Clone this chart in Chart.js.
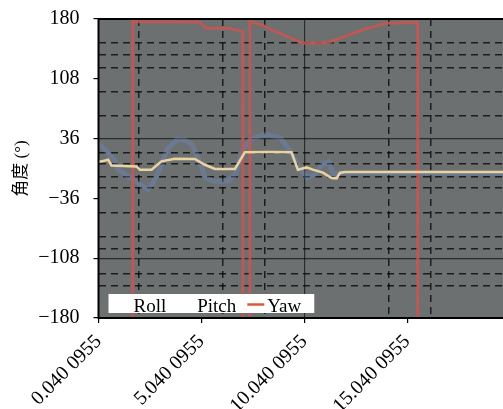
<!DOCTYPE html>
<html>
<head>
<meta charset="utf-8">
<script src="https://cdn.jsdelivr.net/npm/chart.js@4.4.0/dist/chart.umd.min.js"></script>
<style>
  html, body { margin: 0; padding: 0; background: #fff; overflow: hidden; }
  #chart { display: block; }
</style>
</head>
<body>
<canvas id="chart" width="510" height="409"></canvas>
<script>
// Data
const xTicks = [0.0400955, 5.0400955, 10.0400955, 15.0400955];
const xTickLabels = ['0.040 0955', '5.040 0955', '10.040 0955', '15.040 0955'];
const yTicks = [180, 108, 36, -36, -108, -180];
const yTickLabels = ['180', '108', '36', '\u221236', '\u2212108', '\u2212180'];
const seriesNames = ['Roll', 'Pitch', 'Yaw'];

const rollX = [0.04, 0.35, 0.83, 0.98, 2.05, 2.44, 2.68, 3.03, 3.37, 3.86, 4.25, 4.60, 4.99, 5.23, 5.72, 6.35, 6.69,
  7.08, 7.42, 8.15, 8.88, 9.37, 9.85, 10.19, 10.58, 10.92, 11.21, 11.45, 11.79, 20.04];
const rollY = [30, 23, 10, -1, -19, -25, -17, -1, 23, 35, 34, 29, 5, -11, -16, -15, -7,
  23, 35, 41, 37, 20, -1, -11, -7, 5, 8, -7, -5, -6];

const pitchX = [0.04, 0.19, 0.51, 0.67, 1.89, 2.05, 2.62, 3.10, 3.75, 4.72, 5.21, 5.70, 6.67, 7.00, 7.15, 8.37,
  9.42, 9.73, 10.15, 10.46, 10.95, 11.37, 11.61, 11.77, 12.02, 20.04];
const pitchY = [8, 8.6, 10.6, 3.7, 2.5, -1.4, -1.4, 8.6, 11.8, 11.4, 4.5, -0.6, -0.6, 13, 19.5, 19.8,
  19.5, -1.4, 1.3, -1.4, -5, -11.4, -12, -5.4, -4.2, -4.2];

// yaw wraps round: the low parts sit just below -180, out of the plot
const yawX = [0.04, 1.70, 1.71, 4.96, 5.30, 6.40, 7.05, 7.06, 7.39, 7.40, 8.00, 8.35, 9.96, 11.15, 12.0, 13.0,
  14.05, 15.55, 15.56, 20.04];
const yawY = [-184, -184, 177, 176, 169, 169, 165, -184, -184, 177, 173, 168, 151, 151, 159, 168,
  175, 176, -184, -184];

// dashed grid of the photographed screen
const screenGridX = [2.0, 6.08, 8.13, 14.17, 16.2];
const screenGridY = [151, 137, 121, 93, 63, 18.4, 5.4, -9.5, -23.5, -53.6, -81.7, -96.9, -126.6, -141.1];

// Helpers
const toPoints = (xs, ys) => xs.map((x, i) => ({ x: x, y: ys[i] }));
const serif = '"Liberation Serif", "Times New Roman", serif';
const xMax = 20.0400955;

// Plugins
const screenBackground = {
  id: 'screenBackground',
  beforeDraw: (chart) => {
    const { ctx, chartArea: a } = chart;
    ctx.save();
    ctx.fillStyle = '#6d7071';
    ctx.fillRect(a.left, a.top, a.right - a.left, a.bottom - a.top);
    ctx.restore();
  }
};

const frameAndLegend = {
  id: 'frameAndLegend',
  afterDraw: (chart) => {
    const { ctx, chartArea: a } = chart;
    ctx.save();
    ctx.strokeStyle = '#000';
    ctx.lineWidth = 2;
    ctx.beginPath();
    ctx.moveTo(a.right, a.top);
    ctx.lineTo(a.left, a.top);
    ctx.lineTo(a.left, a.bottom);
    ctx.lineTo(a.right, a.bottom);
    ctx.stroke();

    // legend box in the lower left corner
    const legendColors = ['#ffffff', '#ffffff', '#d75a3c'];
    const boxLeft = a.left + 10;
    const boxTop = a.bottom - 24;
    ctx.font = '19px ' + serif;
    let w = 5;
    seriesNames.forEach((name) => { w += 20 + ctx.measureText(name).width + 11; });
    ctx.fillStyle = '#fff';
    ctx.fillRect(boxLeft, boxTop, w + 2, 19);
    let cx = boxLeft + 5;
    seriesNames.forEach((name, i) => {
      ctx.strokeStyle = legendColors[i];
      ctx.lineWidth = 2.5;
      ctx.beginPath();
      ctx.moveTo(cx, boxTop + 10.5);
      ctx.lineTo(cx + 17, boxTop + 10.5);
      ctx.stroke();
      ctx.fillStyle = '#000';
      ctx.textBaseline = 'alphabetic';
      ctx.fillText(name, cx + 20, boxTop + 17.5);
      cx += 20 + ctx.measureText(name).width + 11;
    });
    ctx.restore();
  }
};

// Render
const renderChart = () => {
  const ctx = document.getElementById('chart');
  new Chart(ctx, {
    type: 'line',
    data: {
      datasets: [
        {
          label: seriesNames[0],
          data: toPoints(rollX, rollY),
          borderColor: 'rgba(105, 140, 205, 0.35)',
          borderWidth: 5,
          order: 2
        },
        {
          label: seriesNames[1],
          data: toPoints(pitchX, pitchY),
          borderColor: '#ead3a0',
          borderWidth: 2.5,
          order: 0
        },
        {
          label: seriesNames[2],
          data: toPoints(yawX, yawY),
          borderColor: 'rgba(200, 85, 80, 0.85)',
          borderWidth: 3,
          order: 1
        }
      ]
    },
    options: {
      responsive: false,
      animation: false,
      devicePixelRatio: 1,
      layout: { padding: { top: 19, right: 0, bottom: 0, left: 0 } },
      elements: { point: { radius: 0 }, line: { tension: 0 } },
      plugins: { legend: { display: false }, tooltip: { enabled: false } },
      scales: {
        x: {
          type: 'linear',
          min: xTicks[0],
          max: xMax,
          afterBuildTicks: (s) => { s.ticks = xTicks.map((v) => ({ value: v })); },
          afterFit: (s) => { s.height = 91; },
          ticks: {
            autoSkip: false,
            minRotation: 45,
            maxRotation: 45,
            padding: 7,
            color: '#000',
            font: { family: serif, size: 20 },
            callback: (v) => xTickLabels[xTicks.indexOf(v)]
          },
          grid: {
            color: (c) => (c.tick && c.tick.value === xTicks[2]) ? 'rgba(20, 20, 20, 0.75)' : 'rgba(0, 0, 0, 0)',
            lineWidth: 1.2,
            tickColor: '#000',
            tickLength: 5
          },
          border: { display: false }
        },
        gx: {
          type: 'linear',
          position: 'bottom',
          min: xTicks[0],
          max: xMax,
          afterBuildTicks: (s) => { s.ticks = screenGridX.map((v) => ({ value: v })); },
          afterFit: (s) => { s.height = 0; },
          ticks: { display: false },
          grid: { color: 'rgba(0, 0, 0, 0.75)', lineWidth: 1.5, drawTicks: false },
          border: { display: false, dash: [7, 5] }
        },
        y: {
          min: -180,
          max: 180,
          afterBuildTicks: (s) => { s.ticks = yTicks.map((v) => ({ value: v })); },
          afterFit: (s) => { s.width = 98.5; s.paddingTop = 0; s.paddingBottom = 0; },
          ticks: {
            padding: 14,
            color: '#000',
            font: { family: serif, size: 20 },
            callback: (v) => yTickLabels[yTicks.indexOf(v)]
          },
          grid: {
            color: (c) => (c.tick && (c.tick.value === 36 || c.tick.value === -108)) ? 'rgba(20, 20, 20, 0.75)' : 'rgba(0, 0, 0, 0)',
            lineWidth: 1.2,
            tickColor: '#000',
            tickLength: 5
          },
          border: { display: false },
          title: {
            display: true,
            text: '角度 (°)',
            color: '#000',
            font: { family: '"Liberation Serif", "Noto Sans CJK SC", serif', size: 17 },
            padding: { top: 11, bottom: 0 }
          }
        },
        gy: {
          type: 'linear',
          position: 'left',
          min: -180,
          max: 180,
          afterBuildTicks: (s) => { s.ticks = screenGridY.map((v) => ({ value: v })); },
          afterFit: (s) => { s.width = 0; },
          ticks: { display: false },
          grid: { color: 'rgba(0, 0, 0, 0.75)', lineWidth: 1.5, drawTicks: false },
          border: { display: false, dash: [7, 5] }
        }
      }
    },
    plugins: [screenBackground, frameAndLegend]
  });
};

renderChart();
</script>
</body>
</html>
